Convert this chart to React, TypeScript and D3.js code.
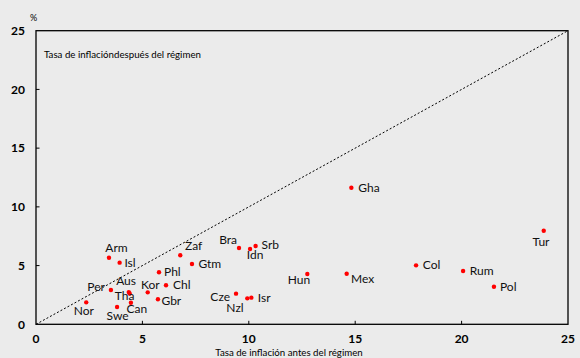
import React from "react";
import * as d3 from "d3";

const countries = ["Arm","Isl","Zaf","Gtm","Phl","Chl","Kor","Per","Aus","Tha","Gbr","Can","Nor","Swe","Bra","Idn","Srb","Cze","Nzl","Isr","Hun","Mex","Col","Rum","Pol","Tur","Gha"];
const before = [3.43,3.93,6.78,7.33,5.78,6.11,5.25,3.52,4.36,4.40,5.73,4.46,2.36,3.81,9.54,10.06,10.32,9.40,9.93,10.12,12.75,14.60,17.86,20.07,21.52,23.86,14.82];
const after = [5.67,5.25,5.88,5.13,4.43,3.32,2.72,2.92,2.74,2.62,2.13,1.84,1.87,1.47,6.50,6.41,6.67,2.61,2.21,2.27,4.28,4.31,5.02,4.54,3.20,7.97,11.63];
const xTicks = [0,5,10,15,20,25];
const yTicks = [0,5,10,15,20,25];
const xTitle = "Tasa de inflación antes del régimen";
const yTitle = "Tasa de inflacióndespués del régimen";
const unitLabel = "%";

// label placement: [anchor, dx, dy]
const labelPos: Record<string, [string, number, number]> = {
  Arm: ["middle", 7.5, -6], Isl: ["start", 4.8, 4.3], Zaf: ["start", 4.7, -5.3], Gtm: ["start", 6.5, 4],
  Phl: ["start", 5, 3.7], Chl: ["start", 7, 3.4], Kor: ["middle", 2.6, -3.3], Per: ["end", -6, 1],
  Aus: ["middle", -2.7, -6.8], Tha: ["middle", -5, 6.6], Gbr: ["start", 3.5, 5.7], Can: ["start", -4.3, 10.6],
  Nor: ["middle", -2.3, 12.7], Swe: ["middle", 0.5, 13], Bra: ["end", -2, -4], Idn: ["middle", 5, 9.7],
  Srb: ["start", 6, 3], Cze: ["end", -6, 7], Nzl: ["middle", -12.3, 14], Isr: ["start", 6.4, 4],
  Hun: ["middle", -8.3, 10.3], Mex: ["start", 4.3, 9.6], Col: ["start", 6.7, 4], Rum: ["start", 6.7, 4],
  Pol: ["start", 6, 4], Tur: ["middle", -2.7, 15], Gha: ["start", 7, 4],
};

const W = 580, H = 358;
const left = 36, right = 568, top = 30.7, bottom = 324.3;
const font = "Lato, 'Open Sans', sans-serif";

export default function App() {
  const x = d3.scaleLinear().domain([0, 25]).range([left, right]);
  const y = d3.scaleLinear().domain([0, 25]).range([bottom, top]);
  const diag = d3.line<number>().x((d) => x(d)).y((d) => y(d))([0, 25]) || "";
  return (
    <svg width={W} height={H} style={{ position: "absolute", left: 0, top: 0, background: "#ebebeb" }} fontFamily={font}>
      <rect x={0} y={0} width={W} height={H} fill="#ebebeb" />
      <path d={diag} stroke="#000" strokeWidth={1} strokeDasharray="2,2" fill="none" />
      <rect x={left} y={top} width={right - left} height={bottom - top} fill="none" stroke="#000" strokeWidth={1.3} />
      {xTicks.slice(1, -1).map((t) => (
        <line key={"xt" + t} x1={x(t)} x2={x(t)} y1={bottom} y2={bottom - 3.5} stroke="#000" strokeWidth={1} />
      ))}
      {yTicks.slice(1, -1).map((t) => (
        <line key={"yt" + t} x1={left} x2={left + 3.5} y1={y(t)} y2={y(t)} stroke="#000" strokeWidth={1} />
      ))}
      {xTicks.map((t) => (
        <text key={"xl" + t} x={x(t)} y={bottom + 18.3} textAnchor="middle" fontSize={12} fontWeight="bold" fill="#000">{t}</text>
      ))}
      {yTicks.map((t) => (
        <text key={"yl" + t} x={left - 11} y={y(t) + 4.3} textAnchor="end" fontSize={12} fontWeight="bold" fill="#000">{t}</text>
      ))}
      <text x={left - 2.5} y={21} textAnchor="middle" fontSize={9} fill="#000">{unitLabel}</text>
      <text x={44} y={57.5} fontSize={9.7} fill="#000">{yTitle}</text>
      <text x={289} y={355.5} textAnchor="middle" fontSize={9.7} fill="#000">{xTitle}</text>
      {countries.map((c, i) => {
        const px = x(before[i]);
        const py = y(after[i]);
        const [anchor, dx, dy] = labelPos[c];
        return (
          <g key={c}>
            <circle cx={px} cy={py} r={2.2} fill="#ff0000" />
            <text x={px + dx} y={py + dy} textAnchor={anchor as any} fontSize={12} fill="#111">{c}</text>
          </g>
        );
      })}
    </svg>
  );
}
